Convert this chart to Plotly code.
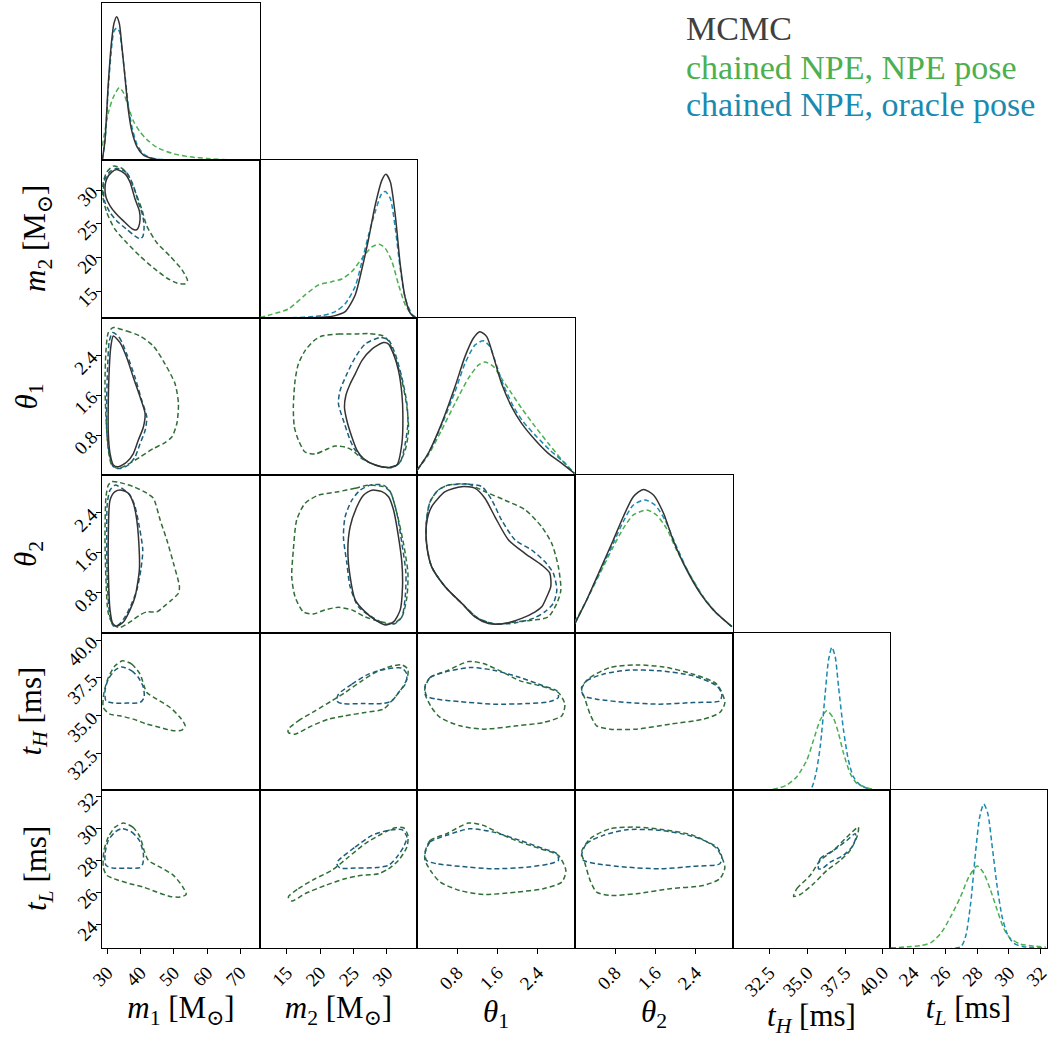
import plotly.graph_objects as go

W, H = 1054, 1038
COL_PX = [102, 260, 417, 575, 733, 890, 1047]
ROW_PX = [3, 160, 318, 475, 633, 790, 948]

PARAMS = ["m1", "m2", "th1", "th2", "tH", "tL"]
RANGES = {"m1": [28.4, 75.9], "m2": [11.0, 34.5], "th1": [0.0, 3.1416],
          "th2": [0.0, 3.1416], "tH": [30.1, 40.47], "tL": [22.55, 32.38]}
TICKVALS = {"m1": [30, 40, 50, 60, 70], "m2": [15, 20, 25, 30],
            "th1": [0.8, 1.6, 2.4], "th2": [0.8, 1.6, 2.4],
            "tH": [32.5, 35.0, 37.5, 40.0], "tL": [24, 26, 28, 30, 32]}
TICKTEXT = {"m1": ["30", "40", "50", "60", "70"], "m2": ["15", "20", "25", "30"],
            "th1": ["0.8", "1.6", "2.4"], "th2": ["0.8", "1.6", "2.4"],
            "tH": ["32.5", "35.0", "37.5", "40.0"], "tL": ["24", "26", "28", "30", "32"]}
LABELS = {"m1": "<i>m</i><sub>1</sub> [M<sub>⊙</sub>]",
          "m2": "<i>m</i><sub>2</sub> [M<sub>⊙</sub>]",
          "th1": "<i>θ</i><sub>1</sub>", "th2": "<i>θ</i><sub>2</sub>",
          "tH": "<i>t</i><sub><i>H</i></sub> [ms]", "tL": "<i>t</i><sub><i>L</i></sub> [ms]"}
# horizontal centre (px) of the rotated y-axis titles, per row 1..5
YTITLE_X_PX = {"m2": 37, "th1": 28, "th2": 28, "tH": 32, "tL": 38}

SERIES = ["mcmc", "npe", "oracle"]
LEGEND_TEXT = ["MCMC", "chained NPE, NPE pose", "chained NPE, oracle pose"]
C_MCMC = "#333333"
C_MCMC_TEXT = "#404040"
C_NPE = "#4caf50"
C_ORACLE = "#1a8ab0"
C_NPE_2D = "#2f6e35"
C_ORACLE_2D = "#1b5e7c"

# ---------------- 1D marginals (height as fraction of panel) ----------------
DENS_M1 = {
    "mcmc": ([28.5, 29.3, 30.3, 31.3, 32.0, 32.8, 33.6, 34.3, 35.3, 36.3, 37.3, 38.9, 40.8, 42.9, 44.9, 50, 60, 75],
             [0.0, 0.127, 0.49, 0.76, 0.87, 0.913, 0.87, 0.74, 0.53, 0.32, 0.19, 0.085, 0.032, 0.013, 0.004, 0, 0, 0]),
    "oracle": ([28.5, 29.3, 30.3, 31.3, 32.0, 32.8, 33.6, 34.3, 35.3, 36.3, 37.3, 38.9, 40.8, 42.9, 44.9, 50, 60, 75],
               [0.0, 0.12, 0.46, 0.72, 0.82, 0.84, 0.82, 0.72, 0.54, 0.35, 0.22, 0.1, 0.04, 0.015, 0.006, 0, 0, 0]),
    "npe": ([28.5, 30.3, 31.8, 33.6, 34.8, 36.3, 37.8, 39.8, 41.9, 44.9, 49.9, 54.9, 59.9, 67, 75],
            [0.09, 0.30, 0.40, 0.46, 0.43, 0.34, 0.25, 0.18, 0.13, 0.08, 0.04, 0.02, 0.01, 0.0, 0.0]),
}
DENS_M2 = {
    "mcmc": ([11, 15, 20.25, 22.25, 23.75, 25.25, 26.25, 27.25, 28.25, 29.25, 29.85, 30.5, 31.25, 32.0, 32.75, 33.5, 34.25],
             [0, 0, 0.004, 0.015, 0.04, 0.146, 0.31, 0.50, 0.715, 0.873, 0.91, 0.863, 0.65, 0.335, 0.125, 0.03, 0.0]),
    "oracle": ([11, 15, 20.25, 22.25, 23.75, 25.25, 26.25, 27.25, 28.25, 29.25, 29.75, 30.5, 31.25, 32.0, 32.75, 33.75, 34.5],
               [0, 0, 0.015, 0.04, 0.09, 0.2, 0.356, 0.525, 0.673, 0.79, 0.80, 0.757, 0.567, 0.31, 0.125, 0.023, 0.0]),
    "npe": ([11.0, 12.75, 15.25, 17.75, 19.75, 21.75, 23.25, 24.75, 26.25, 27.75, 28.85, 29.75, 30.75, 31.75, 32.75, 33.75, 34.5],
            [0.003, 0.023, 0.057, 0.146, 0.209, 0.23, 0.247, 0.294, 0.377, 0.45, 0.467, 0.441, 0.357, 0.209, 0.082, 0.02, 0.0]),
}
DENS_TH1 = {
    "mcmc": ([0.0, 0.225, 0.49, 0.755, 0.954, 1.12, 1.25, 1.386, 1.52, 1.68, 1.88, 2.08, 2.35, 2.61, 2.88, 3.13],
             [0.03, 0.138, 0.329, 0.562, 0.754, 0.871, 0.913, 0.881, 0.754, 0.584, 0.435, 0.329, 0.223, 0.138, 0.074, 0.01]),
    "oracle": ([0.0, 0.225, 0.49, 0.755, 0.954, 1.15, 1.32, 1.45, 1.58, 1.72, 1.92, 2.11, 2.38, 2.64, 2.91, 3.13],
               [0.03, 0.138, 0.318, 0.53, 0.71, 0.827, 0.855, 0.817, 0.70, 0.573, 0.435, 0.34, 0.244, 0.159, 0.085, 0.01]),
    "npe": ([0.0, 0.225, 0.49, 0.755, 1.02, 1.22, 1.35, 1.52, 1.68, 1.88, 2.08, 2.35, 2.61, 2.88, 3.13],
            [0.03, 0.127, 0.286, 0.456, 0.615, 0.70, 0.72, 0.69, 0.615, 0.52, 0.425, 0.308, 0.202, 0.096, 0.01]),
}
DENS_TH2 = {
    "mcmc": ([0.0, 0.232, 0.497, 0.762, 0.96, 1.16, 1.36, 1.56, 1.76, 1.95, 2.22, 2.49, 2.75, 3.12],
             [0.061, 0.209, 0.399, 0.589, 0.736, 0.863, 0.909, 0.873, 0.758, 0.589, 0.399, 0.251, 0.146, 0.04]),
    "oracle": ([0.0, 0.232, 0.497, 0.762, 0.96, 1.16, 1.39, 1.59, 1.79, 1.99, 2.25, 2.52, 2.78, 3.12],
               [0.061, 0.209, 0.388, 0.568, 0.705, 0.81, 0.842, 0.81, 0.715, 0.568, 0.388, 0.241, 0.135, 0.04]),
    "npe": ([0.0, 0.232, 0.497, 0.762, 0.96, 1.16, 1.43, 1.62, 1.82, 2.02, 2.29, 2.55, 2.82, 3.12],
            [0.072, 0.209, 0.378, 0.546, 0.662, 0.747, 0.778, 0.747, 0.662, 0.525, 0.367, 0.23, 0.125, 0.04]),
}
DENS_TH = {
    "oracle": ([30.1, 33.0, 35.2, 35.53, 35.86, 36.19, 36.41, 36.63, 36.85, 37.07, 37.4, 37.72, 38.05, 38.5, 38.94, 39.37, 40.4],
               [0, 0, 0.004, 0.085, 0.276, 0.616, 0.828, 0.909, 0.849, 0.658, 0.382, 0.191, 0.085, 0.032, 0.011, 0.0, 0]),
    "npe": ([30.1, 32.56, 33.22, 33.66, 34.32, 34.98, 35.42, 35.86, 36.3, 36.74, 37.07, 37.4, 37.84, 38.28, 38.94, 39.6, 40.4],
            [0, 0.002, 0.015, 0.032, 0.085, 0.191, 0.318, 0.446, 0.505, 0.456, 0.361, 0.234, 0.106, 0.042, 0.015, 0.0, 0]),
}
DENS_TL = {
    "oracle": ([22.6, 26.97, 27.28, 27.6, 27.9, 28.17, 28.42, 28.67, 28.95, 29.26, 29.57, 29.88, 30.29, 30.91, 32.3],
               [0, 0.008, 0.072, 0.283, 0.599, 0.831, 0.911, 0.852, 0.641, 0.388, 0.198, 0.093, 0.03, 0.008, 0]),
    "npe": ([22.6, 23.65, 24.48, 25.11, 25.73, 26.35, 26.97, 27.49, 28.01, 28.42, 28.84, 29.26, 29.67, 30.08, 30.71, 31.53, 32.3],
            [0.0, 0.008, 0.015, 0.034, 0.093, 0.198, 0.325, 0.451, 0.519, 0.473, 0.367, 0.241, 0.124, 0.061, 0.025, 0.013, 0.005]),
}
DENSITIES = [DENS_M1, DENS_M2, DENS_TH1, DENS_TH2, DENS_TH, DENS_TL]

# ---------------- 2D credible contours (x = column param, y = row param) ----------------
CONT_M2_M1 = {
    "mcmc": ([32.83, 35.33, 36.83, 38.34, 39.63, 39.85, 39.33, 38.64, 37.35, 34.82, 32.32, 30.81, 29.6, 29.3, 29.82, 31.32],
             [33.08, 32.44, 31.19, 28.69, 26.94, 25.69, 24.45, 24.09, 24.3, 25.44, 26.7, 27.69, 28.95, 30.45, 31.69, 32.69]),
    "oracle": ([32.83, 35.84, 37.83, 39.33, 40.66, 41.05, 40.66, 39.85, 38.34, 35.84, 32.83, 30.81, 29.3, 28.79, 29.3, 30.81],
               [33.29, 32.59, 30.69, 28.2, 26.19, 24.45, 23.1, 22.8, 23.19, 24.19, 25.44, 26.7, 28.2, 29.94, 31.69, 32.78]),
    "npe": ([31.8, 34.33, 36.32, 38.85, 40.36, 41.86, 44.88, 48.88, 52.41, 54.09, 53.4, 50.9, 47.89, 43.85, 39.85, 35.84, 32.32, 29.82, 28.6, 28.79, 29.82],
            [33.59, 33.29, 32.18, 29.19, 27.19, 24.69, 22.2, 20.19, 18.2, 16.59, 16.1, 16.2, 16.95, 18.45, 20.19, 22.2, 24.19, 26.7, 29.19, 31.19, 32.69]),
}
CONT_TH1_M1 = {
    "mcmc": ([31.8, 33.82, 35.84, 37.83, 39.85, 41.35, 40.84, 39.33, 37.83, 35.84, 33.31, 31.8, 30.81, 30.3, 30.3, 30.6, 31.02],
             [2.78, 2.65, 2.35, 1.95, 1.56, 1.23, 0.96, 0.70, 0.43, 0.26, 0.165, 0.2, 0.43, 0.83, 1.49, 2.15, 2.55]),
    "oracle": ([31.62, 33.61, 35.84, 38.34, 40.36, 41.86, 41.35, 39.85, 38.34, 36.32, 33.82, 31.8, 30.6, 29.82, 29.82, 30.12, 30.6],
               [2.85, 2.75, 2.42, 1.95, 1.49, 1.16, 0.89, 0.63, 0.36, 0.2, 0.13, 0.165, 0.43, 0.89, 1.56, 2.22, 2.68]),
    "npe": ([31.8, 35.84, 39.85, 43.85, 47.38, 50.39, 51.38, 50.9, 49.39, 46.86, 43.85, 39.85, 35.84, 33.31, 31.32, 30.3, 29.6, 29.3, 29.6, 30.3],
            [2.95, 2.88, 2.78, 2.58, 2.22, 1.82, 1.43, 1.03, 0.76, 0.63, 0.53, 0.36, 0.2, 0.13, 0.2, 0.5, 1.16, 1.82, 2.49, 2.85]),
}
CONT_TH2_M1 = {
    "mcmc": ([34.33, 36.32, 37.83, 38.85, 39.63, 39.63, 38.34, 36.83, 34.82, 32.83, 31.62, 30.81, 30.3, 30.3, 30.81, 32.32],
             [2.84, 2.78, 2.58, 2.25, 1.58, 1.25, 0.72, 0.46, 0.22, 0.14, 0.19, 0.46, 1.25, 1.91, 2.64, 2.81]),
    "oracle": ([32.32, 34.33, 36.83, 38.34, 39.63, 40.66, 40.06, 38.85, 37.35, 35.33, 33.31, 31.8, 30.81, 30.0, 29.82, 30.0, 30.81],
               [2.94, 2.88, 2.74, 2.51, 2.11, 1.65, 1.25, 0.85, 0.59, 0.32, 0.16, 0.14, 0.32, 0.99, 1.91, 2.58, 2.84]),
    "npe": ([31.32, 33.82, 37.83, 41.86, 43.85, 45.87, 47.89, 49.88, 51.68, 51.38, 49.39, 46.86, 44.88, 41.86, 39.85, 36.83, 33.82, 31.8, 30.3, 29.6, 29.3, 29.6, 30.3],
            [3.01, 2.99, 2.91, 2.78, 2.68, 2.25, 1.85, 1.39, 0.92, 0.79, 0.66, 0.52, 0.42, 0.42, 0.36, 0.22, 0.11, 0.16, 0.39, 1.05, 1.91, 2.71, 2.94]),
}
CONT_TH_M1 = {
    "oracle": ([34.33, 37.35, 39.33, 40.84, 41.05, 39.85, 35.84, 31.8, 29.6, 29.3, 30.3, 32.32],
               [38.23, 37.97, 37.53, 36.87, 36.21, 35.88, 35.84, 35.84, 35.99, 36.65, 37.42, 38.01]),
    "npe": ([34.63, 37.35, 39.85, 41.05, 41.86, 44.88, 48.88, 51.89, 53.4, 52.41, 49.88, 45.87, 41.86, 37.83, 33.82, 30.81, 28.79, 29.0, 30.3, 32.32],
            [38.63, 38.41, 37.75, 36.98, 36.54, 36.1, 35.55, 34.89, 34.34, 34.06, 34.01, 34.23, 34.45, 34.78, 35.0, 35.11, 35.55, 36.54, 37.53, 38.3]),
}
CONT_TL_M1 = {
    "oracle": ([34.33, 37.35, 39.63, 40.84, 40.66, 39.85, 35.84, 31.8, 29.6, 29.3, 30.3, 32.32],
               [29.97, 29.76, 29.24, 28.42, 27.79, 27.55, 27.52, 27.52, 27.69, 28.42, 29.24, 29.76]),
    "npe": ([34.82, 37.65, 39.85, 41.05, 42.35, 45.87, 49.88, 52.71, 53.7, 51.89, 48.88, 44.88, 40.84, 36.83, 32.83, 29.82, 28.79, 29.0, 30.3, 32.32],
            [30.32, 30.07, 29.45, 28.62, 28.0, 27.58, 27.07, 26.34, 25.88, 25.72, 25.76, 26.03, 26.34, 26.55, 26.8, 27.07, 27.58, 28.62, 29.45, 30.07]),
}
CONT_TH1_M2 = {
    "mcmc": ([29.49, 30.24, 30.98, 31.73, 32.24, 32.39, 32.24, 31.49, 30.24, 28.24, 26.49, 25.5, 24.75, 24.0, 23.64, 23.85, 24.49, 25.24, 26.25, 27.75],
             [2.65, 2.62, 2.42, 2.09, 1.62, 1.16, 0.63, 0.2, 0.15, 0.2, 0.33, 0.5, 0.76, 1.09, 1.36, 1.59, 1.82, 2.02, 2.29, 2.52]),
    "oracle": ([28.99, 30.24, 31.24, 32.24, 32.99, 33.14, 32.74, 31.99, 30.75, 28.74, 26.74, 25.24, 24.49, 23.64, 22.74, 22.99, 24.0, 25.24, 26.74],
               [2.75, 2.7, 2.42, 1.95, 1.43, 1.03, 0.63, 0.26, 0.15, 0.18, 0.3, 0.5, 0.7, 1.03, 1.43, 1.69, 2.02, 2.35, 2.62]),
    "npe": ([20.25, 22.74, 25.24, 27.24, 29.49, 30.24, 31.24, 32.24, 32.99, 33.23, 32.74, 31.73, 30.24, 28.24, 26.25, 24.75, 23.74, 22.24, 20.75, 19.25, 17.75, 16.74, 16.14, 15.99, 16.25, 16.74, 17.75, 19.0],
            [2.78, 2.82, 2.82, 2.83, 2.78, 2.68, 2.35, 1.89, 1.36, 0.89, 0.5, 0.22, 0.15, 0.2, 0.33, 0.5, 0.56, 0.58, 0.5, 0.42, 0.46, 0.7, 0.96, 1.36, 1.89, 2.22, 2.49, 2.68]),
}
CONT_TH2_M2 = {
    "mcmc": ([27.75, 29.25, 30.24, 30.98, 31.73, 32.24, 32.33, 31.99, 30.98, 29.74, 28.24, 26.74, 25.24, 24.49, 24.15, 24.49, 25.5, 26.49],
             [2.84, 2.81, 2.71, 2.45, 1.91, 1.39, 0.92, 0.46, 0.22, 0.16, 0.26, 0.42, 0.66, 1.12, 1.65, 2.11, 2.51, 2.74]),
    "oracle": ([27.49, 29.49, 30.49, 31.49, 32.24, 32.84, 32.74, 32.24, 31.24, 29.74, 27.75, 25.74, 24.49, 24.0, 23.49, 23.74, 24.75, 25.99],
               [2.94, 2.94, 2.81, 2.38, 1.78, 1.19, 0.72, 0.32, 0.19, 0.18, 0.32, 0.52, 0.92, 1.39, 1.91, 2.31, 2.64, 2.84]),
    "npe": ([22.74, 25.24, 27.24, 29.49, 30.49, 31.49, 32.48, 33.14, 32.99, 32.24, 30.98, 29.25, 26.74, 24.75, 22.74, 20.75, 19.0, 17.49, 16.25, 15.75, 15.99, 16.5, 17.75, 19.74],
            [2.81, 2.88, 2.94, 2.91, 2.81, 2.38, 1.78, 1.19, 0.72, 0.32, 0.19, 0.22, 0.32, 0.46, 0.51, 0.46, 0.38, 0.42, 0.72, 1.12, 1.65, 2.25, 2.58, 2.74]),
}
CONT_TH2_TH1 = {
    "mcmc": ([0.89, 1.15, 1.35, 1.55, 1.82, 2.15, 2.48, 2.64, 2.66, 2.58, 2.48, 2.35, 2.08, 1.75, 1.42, 1.15, 0.89, 0.56, 0.29, 0.19, 0.19, 0.29, 0.56],
             [2.91, 2.88, 2.68, 2.31, 1.85, 1.58, 1.35, 1.19, 0.92, 0.72, 0.52, 0.42, 0.29, 0.19, 0.19, 0.32, 0.59, 0.92, 1.32, 1.78, 2.18, 2.51, 2.81]),
    "oracle": ([0.62, 1.02, 1.29, 1.49, 1.68, 1.95, 2.28, 2.54, 2.71, 2.78, 2.71, 2.54, 2.31, 1.95, 1.55, 1.22, 0.89, 0.56, 0.29, 0.19, 0.19, 0.26, 0.42],
               [2.94, 2.96, 2.91, 2.64, 2.25, 1.85, 1.65, 1.42, 1.19, 0.85, 0.59, 0.42, 0.29, 0.2, 0.18, 0.29, 0.59, 0.92, 1.32, 1.78, 2.25, 2.61, 2.84]),
    "npe": ([0.62, 1.02, 1.35, 1.75, 2.15, 2.48, 2.68, 2.81, 2.86, 2.78, 2.61, 2.35, 1.95, 1.55, 1.22, 0.89, 0.56, 0.29, 0.19, 0.19, 0.26, 0.42],
            [2.94, 2.96, 2.81, 2.64, 2.45, 2.11, 1.78, 1.32, 0.85, 0.59, 0.32, 0.26, 0.22, 0.18, 0.29, 0.59, 0.92, 1.32, 1.78, 2.25, 2.61, 2.84]),
}
CONT_TH_M2 = {
    "oracle": ([22.74, 24.75, 27.24, 29.74, 32.24, 32.99, 32.74, 31.73, 30.75, 29.25, 26.25, 23.25, 22.5],
               [36.43, 37.09, 37.75, 38.08, 38.15, 37.75, 37.09, 36.54, 35.99, 35.81, 35.81, 35.81, 35.99]),
    "npe": ([15.24, 16.74, 19.25, 21.75, 23.74, 26.25, 28.24, 30.24, 32.24, 33.14, 32.99, 31.99, 30.49, 29.49, 26.74, 23.74, 21.24, 18.75, 16.25, 15.24],
            [34.12, 34.67, 35.33, 35.99, 36.54, 37.31, 37.86, 38.23, 38.36, 38.08, 37.42, 36.65, 35.88, 35.44, 35.22, 35.0, 34.78, 34.34, 33.79, 33.9]),
}
CONT_TL_M2 = {
    "oracle": ([22.74, 25.24, 27.75, 30.24, 32.24, 32.99, 32.48, 31.49, 30.24, 28.24, 25.24, 22.99, 22.5],
               [28.0, 28.83, 29.56, 29.87, 29.91, 29.45, 28.83, 28.21, 27.69, 27.55, 27.52, 27.52, 27.79]),
    "npe": ([15.24, 16.74, 19.25, 21.75, 24.24, 26.74, 29.25, 31.24, 32.48, 33.14, 32.99, 31.73, 30.24, 28.74, 26.25, 23.74, 20.75, 17.75, 15.75],
            [25.72, 26.24, 26.86, 27.38, 28.21, 29.04, 29.66, 30.03, 30.03, 29.56, 28.83, 28.0, 27.48, 27.17, 27.07, 26.86, 26.44, 25.93, 25.47]),
}
CONT_TH_TH1 = {
    "oracle": ([0.16, 0.26, 0.52, 1.05, 1.52, 2.05, 2.51, 2.78, 2.81, 2.64, 2.18, 1.52, 0.85, 0.39, 0.19],
               [36.98, 37.53, 37.86, 38.19, 38.01, 37.53, 36.98, 36.65, 36.21, 35.94, 35.81, 35.77, 35.94, 36.1, 36.32]),
    "npe": ([0.16, 0.26, 0.59, 1.02, 1.32, 1.65, 2.05, 2.45, 2.81, 2.94, 2.88, 2.51, 1.98, 1.32, 0.85, 0.46, 0.29, 0.16],
            [36.87, 37.53, 37.97, 38.58, 38.45, 37.97, 37.31, 36.98, 36.54, 35.77, 35.0, 34.56, 34.34, 34.12, 34.34, 34.89, 35.55, 36.43]),
}
CONT_TH_TH2 = {
    "oracle": ([0.13, 0.23, 0.56, 1.03, 1.69, 2.35, 2.82, 2.92, 2.88, 2.35, 1.69, 1.03, 0.43, 0.17],
               [36.76, 37.31, 37.75, 38.01, 37.97, 37.64, 36.98, 36.43, 35.99, 35.88, 35.77, 35.88, 36.1, 36.32]),
    "npe": ([0.13, 0.3, 0.7, 1.23, 1.76, 2.35, 2.82, 2.98, 2.88, 2.55, 1.89, 1.23, 0.7, 0.43, 0.3, 0.2],
            [36.87, 37.53, 38.19, 38.36, 38.23, 37.75, 37.09, 35.88, 35.22, 34.78, 34.45, 34.12, 34.12, 34.34, 35.11, 36.1]),
}
CONT_TL_TH1 = {
    "oracle": ([0.16, 0.26, 0.59, 1.05, 1.52, 2.05, 2.51, 2.78, 2.81, 2.64, 2.18, 1.52, 0.85, 0.39, 0.19],
               [28.42, 29.14, 29.56, 29.97, 29.76, 29.24, 28.73, 28.42, 28.0, 27.79, 27.58, 27.48, 27.63, 27.79, 28.0]),
    "npe": ([0.16, 0.26, 0.59, 1.02, 1.32, 1.65, 2.05, 2.45, 2.81, 2.96, 2.88, 2.51, 1.98, 1.32, 0.85, 0.46, 0.29, 0.16],
            [28.52, 29.24, 29.66, 30.32, 30.18, 29.66, 29.14, 28.73, 28.31, 27.38, 26.65, 26.24, 26.03, 25.88, 26.13, 26.65, 27.27, 28.0]),
}
CONT_TL_TH2 = {
    "oracle": ([0.13, 0.23, 0.56, 1.03, 1.69, 2.35, 2.82, 2.92, 2.88, 2.35, 1.69, 1.03, 0.43, 0.17],
               [28.31, 29.04, 29.56, 29.91, 29.87, 29.49, 28.83, 28.21, 27.79, 27.63, 27.48, 27.58, 27.79, 28.0]),
    "npe": ([0.13, 0.3, 0.7, 1.23, 1.76, 2.35, 2.82, 2.98, 2.88, 2.55, 1.89, 1.23, 0.7, 0.43, 0.3, 0.2],
            [28.52, 29.35, 29.97, 30.07, 29.91, 29.56, 28.73, 27.58, 26.86, 26.44, 26.24, 25.93, 25.82, 26.03, 26.76, 27.79]),
}
CONT_TL_TH = {
    "oracle": ([35.75, 35.86, 36.73, 37.62, 38.17, 38.23, 37.95, 37.39, 36.52, 35.97],
               [27.48, 28.11, 28.62, 29.24, 29.66, 29.45, 28.83, 28.31, 27.89, 27.48]),
    "npe": ([34.1, 34.32, 35.2, 35.86, 36.73, 37.62, 38.38, 38.32, 37.84, 37.18, 36.3, 35.42, 34.54],
            [25.76, 26.24, 27.07, 28.0, 28.62, 29.45, 30.07, 29.56, 28.62, 28.0, 27.38, 26.55, 25.88]),
}
CONTOURS = {
    (1, 0): CONT_M2_M1, (2, 0): CONT_TH1_M1, (3, 0): CONT_TH2_M1, (4, 0): CONT_TH_M1, (5, 0): CONT_TL_M1,
    (2, 1): CONT_TH1_M2, (3, 1): CONT_TH2_M2, (4, 1): CONT_TH_M2, (5, 1): CONT_TL_M2,
    (3, 2): CONT_TH2_TH1, (4, 2): CONT_TH_TH1, (5, 2): CONT_TL_TH1,
    (4, 3): CONT_TH_TH2, (5, 3): CONT_TL_TH2,
    (5, 4): CONT_TL_TH,
}

STYLE_1D = {"mcmc": (C_MCMC, "solid"), "npe": (C_NPE, "5px,3px"), "oracle": (C_ORACLE, "5px,3px")}
STYLE_2D = {"mcmc": (C_MCMC, "solid"), "npe": (C_NPE_2D, "5px,3px"), "oracle": (C_ORACLE_2D, "5px,3px")}
DRAW_ORDER = ["npe", "oracle", "mcmc"]

SERIF = "Liberation Serif, DejaVu Serif, serif"
TICK_FONT = dict(family=SERIF, size=19, color="black")
TITLE_FONT = dict(family=SERIF, size=31, color="black")

fig = go.Figure()


def add_line(x, y, color, dash, xa, ya, closed=False):
    x = list(x)
    y = list(y)
    if closed:
        x = x + [x[0]]
        y = y + [y[0]]
    fig.add_trace(go.Scatter(
        x=x, y=y, mode="lines", xaxis=xa, yaxis=ya, showlegend=False, hoverinfo="skip",
        line=dict(color=color, width=1.5, dash=dash, shape="spline", smoothing=0.7)))


layout_axes = {}
annotations = []
k = 0
for i in range(6):
    for j in range(i + 1):
        k += 1
        sfx = "" if k == 1 else str(k)
        xa, ya = "x" + sfx, "y" + sfx
        px, py = PARAMS[j], PARAMS[i]
        xdom = [COL_PX[j] / W, COL_PX[j + 1] / W]
        ydom = [1 - ROW_PX[i + 1] / H, 1 - ROW_PX[i] / H]
        base = dict(showgrid=False, zeroline=False, showline=True, mirror=True, automargin=False,
                    linecolor="black", linewidth=1.3, ticks="", showticklabels=False, fixedrange=True)
        xaxis = dict(base, domain=xdom, anchor=ya, range=RANGES[px])
        yaxis = dict(base, domain=ydom, anchor=xa,
                     range=[0, 1] if i == j else RANGES[py])
        if i == 5:
            xaxis.update(ticks="outside", ticklen=5, tickwidth=1, tickcolor="black",
                         tickvals=TICKVALS[px], ticktext=TICKTEXT[px], showticklabels=True,
                         tickangle=-45, tickfont=TICK_FONT,
                         title=dict(text=LABELS[px], font=TITLE_FONT, standoff=2))
        if j == 0 and i > 0:
            yaxis.update(ticks="outside", ticklen=5, tickwidth=1, tickcolor="black",
                         tickvals=TICKVALS[py], ticktext=TICKTEXT[py], showticklabels=True,
                         tickangle=-45, tickfont=TICK_FONT)
            annotations.append(dict(text=LABELS[py], textangle=-90,
                                    x=YTITLE_X_PX[py] / W, y=sum(ydom) / 2,
                                    xref="paper", yref="paper", xanchor="center", yanchor="middle",
                                    showarrow=False, font=TITLE_FONT))
        layout_axes["xaxis" + sfx] = xaxis
        layout_axes["yaxis" + sfx] = yaxis

        if i == j:
            dens = DENSITIES[i]
            for s in DRAW_ORDER:
                if s in dens:
                    c, d = STYLE_1D[s]
                    add_line(dens[s][0], dens[s][1], c, d, xa, ya)
        else:
            cont = CONTOURS[(i, j)]
            for s in DRAW_ORDER:
                if s in cont:
                    c, d = STYLE_2D[s]
                    add_line(cont[s][0], cont[s][1], c, d, xa, ya, closed=True)

LEGEND_COLORS = [C_MCMC_TEXT, C_NPE, C_ORACLE]
LEGEND_Y_PX = [28, 67, 104]
for txt, col, ypx in zip(LEGEND_TEXT, LEGEND_COLORS, LEGEND_Y_PX):
    annotations.append(dict(text=txt, x=684 / W, y=1 - ypx / H, xref="paper", yref="paper",
                            xanchor="left", yanchor="middle", showarrow=False,
                            font=dict(family=SERIF, size=34, color=col)))

fig.update_layout(
    width=W, height=H, autosize=False,
    margin=dict(l=0, r=0, t=0, b=0, pad=0),
    paper_bgcolor="white", plot_bgcolor="white",
    showlegend=False, annotations=annotations,
    **layout_axes,
)

fig.write_html("out.html", config={"displayModeBar": False},
               post_script="document.body.style.margin='0px';")
